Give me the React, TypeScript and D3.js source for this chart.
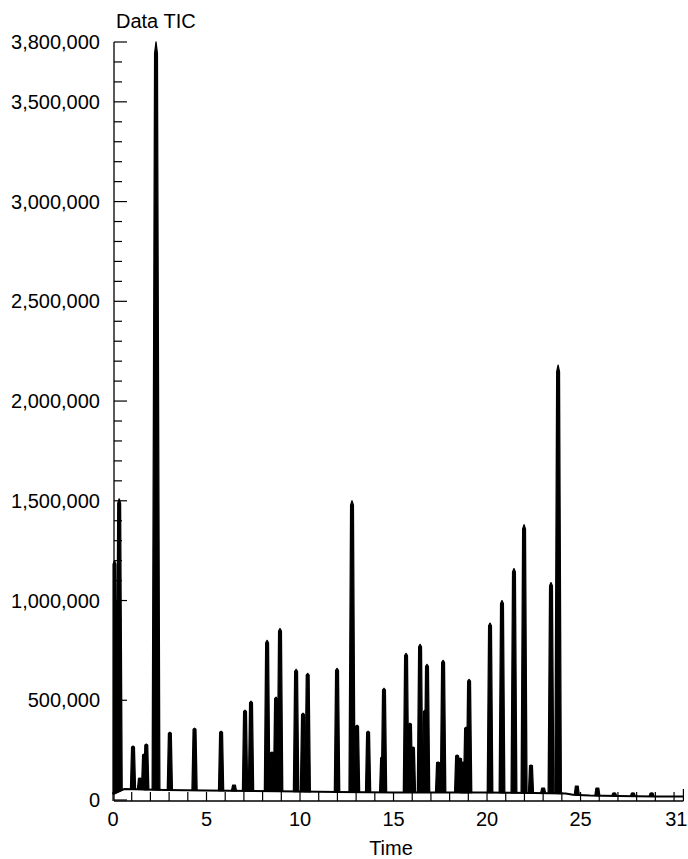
import React from "react";
import * as d3 from "d3";

// Chromatogram (TIC) peaks: retention time (min) and apex intensity
const peakTimes = [
  0.08, 0.2, 0.33, 1.07, 1.44, 1.66, 1.78, 2.3, 3.04, 4.36, 5.78, 6.47, 7.06, 7.38,
  8.24, 8.5, 8.72, 8.93, 9.79, 10.16, 10.41, 11.98, 12.78, 13.05, 13.64, 14.39,
  14.49, 15.67, 15.88, 16.04, 16.42, 16.68, 16.79, 17.38, 17.65, 18.4, 18.56,
  18.72, 18.88, 19.04, 20.16, 20.8, 21.44, 21.98, 22.35, 23.0, 23.42, 23.8,
  24.8, 25.9, 26.8, 27.8, 28.8,
];
const peakHeights = [
  1200000, 1000000, 1510000, 270000, 110000, 230000, 280000, 3800000, 340000, 360000,
  345000, 75000, 450000, 495000, 800000, 240000, 515000, 860000, 655000, 435000,
  635000, 660000, 1500000, 375000, 345000, 215000, 560000, 735000, 385000,
  265000, 780000, 450000, 680000, 190000, 700000, 225000, 210000, 190000, 365000,
  605000, 887000, 1000000, 1160000, 1380000, 175000, 60000, 1090000, 2180000,
  70000, 60000, 35000, 35000, 35000,
];

// Baseline of the trace between peaks
const baseTimes = [0, 0.6, 2.8, 5, 7.5, 10, 12, 15, 18, 20, 22.5, 24.2, 24.6, 25.5, 27, 29, 30.5];
const baseValues = [30000, 55000, 50000, 48000, 45000, 42000, 40000, 38000, 38000, 37000, 35000, 32000, 26000, 22000, 20000, 18000, 18000];

// Axis ticks
const yLabelValues = [0, 500000, 1000000, 1500000, 2000000, 2500000, 3000000, 3500000, 3800000];
const xLabelValues = [0, 5, 10, 15, 20, 25];
const xEndLabel = "31";
const xMax = 30.5;
const yMax = 3800000;

const W = 688;
const H = 859;
const FONT = "'Liberation Sans', Arial, Helvetica, sans-serif";

export default function App() {
  const x = d3.scaleLinear().domain([0, xMax]).range([113, 683.4]);
  const y = d3.scaleLinear().domain([0, yMax]).range([800, 42]);
  const baseAt = d3.scaleLinear().domain(baseTimes).range(baseValues).clamp(true);

  const line = d3
    .line<[number, number]>()
    .x((d) => x(d[0]))
    .y((d) => y(d[1]));

  const basePath = line(baseTimes.map((t, i) => [t, baseValues[i]] as [number, number])) || "";

  const peakPaths = peakTimes.map((t, i) => {
    const h = peakHeights[i];
    const bw = 0.13 + 0.02 * (h / 1e6);
    const tw = 0.075;
    const pts: [number, number][] = [
      [Math.max(0, t - bw), baseAt(t - bw)],
      [Math.max(0, t - tw), h * 0.985],
      [t, h],
      [t + tw, h * 0.985],
      [t + bw, baseAt(t + bw)],
    ];
    return (line(pts) || "") + "Z";
  });

  const yMinorTicks = d3.range(0, yMax + 1, 100000);
  const xMinorTicks = d3.range(0, 31, 1).filter((t) => t <= xMax);
  const fmt = d3.format(",");

  const axisX = x(0) + 1;
  const axisY = y(0) + 1;

  return (
    <svg
      width={W}
      height={H}
      style={{ position: "absolute", left: 0, top: 0, background: "#fff" }}
      fontFamily={FONT}
    >
      <rect x={0} y={0} width={W} height={H} fill="#fff" />
      {/* Title */}
      <text x={116} y={28} fontSize={20} fill="#000">
        Data TIC
      </text>

      {/* Y axis */}
      <line x1={axisX} x2={axisX} y1={y(yMax)} y2={axisY} stroke="#000" strokeWidth={1.3} />
      {yMinorTicks.map((v) => {
        const major = v % 500000 === 0 || v === yMax;
        return (
          <line
            key={"yt" + v}
            x1={axisX}
            x2={axisX + (major ? 13 : 8)}
            y1={y(v)}
            y2={y(v)}
            stroke="#000"
            strokeWidth={1.2}
          />
        );
      })}
      {yLabelValues.map((v) => (
        <text
          key={"yl" + v}
          x={100}
          y={y(v) + 7}
          fontSize={20}
          textAnchor="end"
          fill="#000"
        >
          {fmt(v)}
        </text>
      ))}

      {/* X axis */}
      <line x1={axisX} x2={x(xMax)} y1={axisY} y2={axisY} stroke="#000" strokeWidth={1.3} />
      {xMinorTicks.map((t) => (
        <line
          key={"xt" + t}
          x1={x(t)}
          x2={x(t)}
          y1={axisY}
          y2={axisY - 9}
          stroke="#000"
          strokeWidth={1.2}
        />
      ))}
      <line x1={x(xMax)} x2={x(xMax)} y1={axisY} y2={axisY - 12} stroke="#000" strokeWidth={1.2} />
      {xLabelValues.map((t) => (
        <text key={"xl" + t} x={x(t)} y={826} fontSize={20} textAnchor="middle" fill="#000">
          {t}
        </text>
      ))}
      <text x={x(xMax) + 4} y={826} fontSize={20} textAnchor="end" fill="#000">
        {xEndLabel}
      </text>
      <text x={391} y={855} fontSize={20} textAnchor="middle" fill="#000">
        Time
      </text>

      {/* Trace */}
      <path d={basePath} fill="none" stroke="#000" strokeWidth={2} />
      {peakPaths.map((d, i) => (
        <path key={"pk" + i} d={d} fill="#000" stroke="#000" strokeWidth={1.3} strokeLinejoin="round" />
      ))}
    </svg>
  );
}
